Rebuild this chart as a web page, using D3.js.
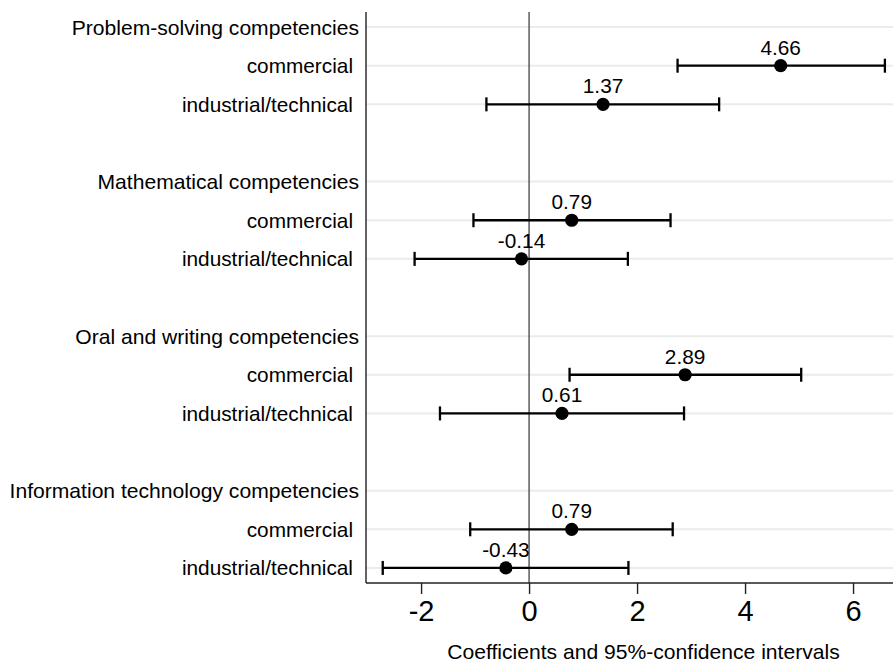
<html>
<head>
<meta charset="utf-8">
<script src="https://d3js.org/d3.v7.min.js"></script>
<style>
body { margin: 0; background: #fff; }
text { font-family: "Liberation Sans", Arial, sans-serif; fill: #000; }
</style>
</head>
<body>
<script>
var width = 893;
var height = 666;

// data
var groups = ["Problem-solving competencies", "Mathematical competencies",
              "Oral and writing competencies", "Information technology competencies"];
var types = ["commercial", "industrial/technical"];
var coef  = [4.66, 1.37, 0.79, -0.14, 2.89, 0.61, 0.79, -0.43];
var lower = [2.75, -0.79, -1.03, -2.12, 0.75, -1.65, -1.09, -2.71];
var upper = [6.59, 3.52, 2.62, 1.83, 5.04, 2.87, 2.66, 1.84];
var xTicks = [-2, 0, 2, 4, 6];

// rows: header, commercial, industrial/technical, gap
var rows = [];
groups.forEach(function(g, gi) {
    rows.push({ label: g, row: gi * 4, header: true });
    types.forEach(function(t, ti) {
        var k = gi * 2 + ti;
        rows.push({ label: t, row: gi * 4 + 1 + ti, header: false,
                    b: coef[k], lo: lower[k], hi: upper[k] });
    });
});
var coefRows = rows.filter(function(d) { return !d.header; });

// plot area (window.top is reserved, so prefixed names)
var plotL = 366, plotR = 893, plotT = 12, plotB = 583;

var x = d3.scaleLinear().domain([-3.02, 6.74]).range([plotL, plotR]);
var y = d3.scaleLinear().domain([-0.39, 14.39]).range([plotT, plotB]);

var svg = d3.select("body").append("svg")
    .attr("width", width)
    .attr("height", height);

// grid lines at each labelled row
svg.append("g").selectAll("line")
    .data(rows)
    .enter().append("line")
    .attr("x1", plotL).attr("x2", plotR)
    .attr("y1", function(d) { return y(d.row); })
    .attr("y2", function(d) { return y(d.row); })
    .attr("stroke", "#ebebeb")
    .attr("stroke-width", 2);

// row labels
svg.append("g").selectAll("text")
    .data(rows)
    .enter().append("text")
    .attr("x", function(d) { return d.header ? 359 : 353; })
    .attr("y", function(d) { return y(d.row); })
    .attr("dy", "0.36em")
    .attr("text-anchor", "end")
    .style("font-size", function(d) { return d.header ? "21.1px" : "20.8px"; })
    .text(function(d) { return d.label; });

// zero line
svg.append("line")
    .attr("x1", x(0)).attr("x2", x(0))
    .attr("y1", plotT).attr("y2", plotB)
    .attr("stroke", "#333").attr("stroke-width", 1.2);

// x axis
var xAxis = svg.append("g")
    .attr("transform", "translate(0," + plotB + ")")
    .call(d3.axisBottom(x).tickValues(xTicks).tickSize(11).tickPadding(6)
        .tickFormat(function(d) { return d < 0 ? "-" + Math.abs(d) : String(d); }));
xAxis.select(".domain").remove();
xAxis.selectAll(".tick line").attr("stroke", "#222").attr("stroke-width", 1.4);
xAxis.selectAll(".tick text")
    .style("font-size", "29px")
    .style("font-family", "'Liberation Sans', Arial, sans-serif")
    .attr("fill", "#000");

// plot frame: left and bottom
svg.append("line")
    .attr("x1", plotL).attr("x2", plotL).attr("y1", plotT).attr("y2", plotB)
    .attr("stroke", "#222").attr("stroke-width", 1.4);
svg.append("line")
    .attr("x1", plotL).attr("x2", plotR).attr("y1", plotB).attr("y2", plotB)
    .attr("stroke", "#222").attr("stroke-width", 1.4);

// axis title
svg.append("text")
    .attr("x", (plotL + plotR) / 2 + 14)
    .attr("y", 659)
    .attr("text-anchor", "middle")
    .style("font-size", "21.1px")
    .text("Coefficients and 95%-confidence intervals");

// confidence intervals
var ci = svg.append("g").selectAll("g")
    .data(coefRows)
    .enter().append("g");

ci.append("line")
    .attr("x1", function(d) { return x(d.lo); })
    .attr("x2", function(d) { return x(d.hi); })
    .attr("y1", function(d) { return y(d.row); })
    .attr("y2", function(d) { return y(d.row); })
    .attr("stroke", "#000").attr("stroke-width", 2.3);

ci.selectAll(".cap")
    .data(function(d) { return [{ v: d.lo, row: d.row }, { v: d.hi, row: d.row }]; })
    .enter().append("line")
    .attr("class", "cap")
    .attr("x1", function(d) { return x(d.v); })
    .attr("x2", function(d) { return x(d.v); })
    .attr("y1", function(d) { return y(d.row) - 7; })
    .attr("y2", function(d) { return y(d.row) + 7; })
    .attr("stroke", "#000").attr("stroke-width", 2.3);

ci.append("circle")
    .attr("cx", function(d) { return x(d.b); })
    .attr("cy", function(d) { return y(d.row); })
    .attr("r", 6.6)
    .attr("fill", "#000");

ci.append("text")
    .attr("x", function(d) { return x(d.b); })
    .attr("y", function(d) { return y(d.row) - 11; })
    .attr("text-anchor", "middle")
    .style("font-size", "20.8px")
    .text(function(d) { return d.b.toFixed(2); });
</script>
</body>
</html>
